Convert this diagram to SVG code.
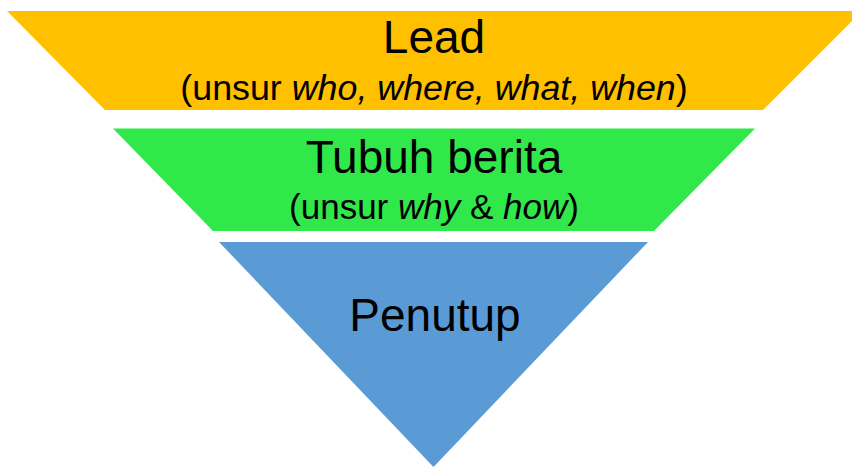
<svg xmlns="http://www.w3.org/2000/svg" width="852" height="467" viewBox="0 0 852 467">
<style>
  .t{font-family:"Liberation Sans",Arial,sans-serif;fill:#000;text-anchor:middle}
  .big{font-size:46px}
  .sm{font-size:35px}
  .i{font-style:italic}
</style>
<rect width="852" height="467" fill="#fff"/>
<g id="lead">
  <polygon points="7,11 862,11 763,110 105,110" fill="#FFC000"/>
  <text class="t big" x="434" y="53">Lead</text>
  <text class="t sm" x="434" y="100" style="font-size:35.8px">(unsur <tspan class="i">who, where, what, when</tspan>)</text>
</g>
<g id="tubuh">
  <polygon points="113,128.5 755,128.5 654,231 213,231" fill="#31E84B"/>
  <text class="t big" x="434" y="173">Tubuh berita</text>
  <text class="t sm" x="434" y="219">(unsur <tspan class="i">why</tspan> &amp; <tspan class="i">how</tspan>)</text>
</g>
<g id="penutup">
  <polygon points="219,242 648,242 433.5,467" fill="#5B9BD5"/>
  <text class="t big" x="435" y="331">Penutup</text>
</g>
<g id="connectors"></g>
</svg>
